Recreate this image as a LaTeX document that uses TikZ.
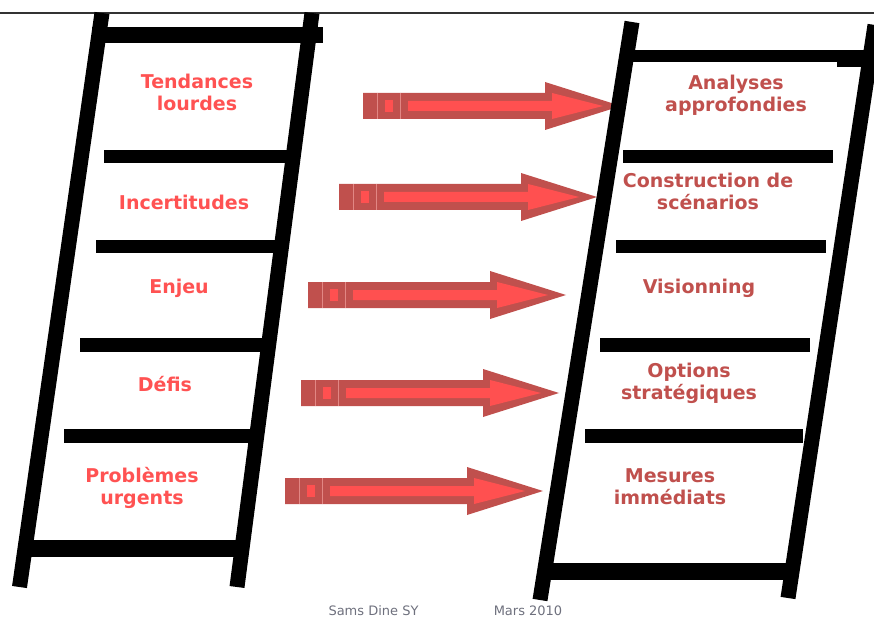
\documentclass[tikz,border=0pt]{standalone}
\usepackage{fontspec}
\setmainfont{DejaVu Sans}
\definecolor{lefttext}{RGB}{255,82,82}
\definecolor{righttext}{RGB}{192,80,77}
\definecolor{arrowrim}{RGB}{192,80,77}
\definecolor{arrowfill}{RGB}{255,80,80}
\definecolor{arrowsep}{RGB}{226,135,132}
\definecolor{footgray}{RGB}{110,112,125}
\tikzset{
  stripearrow/.pic={
    \fill[arrowrim] (0,-13) -- (182,-13) -- (182,-24) -- (258,0) -- (182,24) -- (182,13) -- (0,13) -- cycle;
    \draw[arrowsep, line width=0.8pt] (14,-13) -- (14,13) (37.5,-13) -- (37.5,13);
    \fill[arrowfill] (22,-6) rectangle (30,6);
    \fill[arrowfill] (45,-5) -- (189,-5) -- (189,-13) -- (240,0) -- (189,13) -- (189,5) -- (45,5) -- cycle;
  },
  rail/.style={line width=15pt},
  rung/.style={fill=black},
  lbl/.style={font=\bfseries\fontsize{19}{22}\selectfont, inner sep=0pt, anchor=base},
  leftlbl/.style={lbl, text=lefttext},
  rightlbl/.style={lbl, text=righttext},
  foot/.style={font=\fontsize{13}{15}\selectfont, text=footgray, inner sep=0pt, anchor=base}
}
\begin{document}
\begin{tikzpicture}[x=1pt,y=-1pt]
\useasboundingbox (0,0) rectangle (874,617);
\clip (0,0) rectangle (874,617);

% top rule
\draw[line width=1.5pt, black!80] (0,13) -- (874,13);

% arrows
\pic (a1) at (363,106) {stripearrow};
\pic (a2) at (339,197) {stripearrow};
\pic (a3) at (308,295) {stripearrow};
\pic (a4) at (301,393) {stripearrow};
\pic (a5) at (285,491) {stripearrow};

% left ladder
\draw[rail] (102,13) -- (19.5,587);
\draw[rail] (312,13) -- (237,587);
\fill[rung] (92,27) rectangle (323,43);
\fill[rung] (104,150) rectangle (290,163);
\fill[rung] (96,240) rectangle (277,253);
\fill[rung] (80,338) rectangle (263,352);
\fill[rung] (64,429) rectangle (250,443);
\fill[rung] (28,540) rectangle (248,557);

% right ladder
\draw[rail] (632,22) -- (540,600);
\draw[rail] (875,25) -- (788,598);
\fill[rung] (633,50) rectangle (874,62);
\fill[rung] (837,62) rectangle (874,67);
\fill[rung] (623,150) rectangle (833,163);
\fill[rung] (616,240) rectangle (826,253);
\fill[rung] (600,338) rectangle (810,352);
\fill[rung] (585,429) rectangle (803,443);
\fill[rung] (548,563) rectangle (793,580);

% left labels
\node[leftlbl] (t1) at (197,89) {\begin{tabular}[t]{@{}c@{}}Tendances\\lourdes\end{tabular}};
\node[leftlbl] (t2) at (184,210) {Incertitudes};
\node[leftlbl] (t3) at (179,293) {Enjeu};
\node[leftlbl] (t4) at (165,391) {Défis};
\node[leftlbl] (t5) at (142,482) {\begin{tabular}[t]{@{}c@{}}Problèmes\\urgents\end{tabular}};

% right labels
\node[rightlbl] (r1) at (736,90) {\begin{tabular}[t]{@{}c@{}}Analyses\\approfondies\end{tabular}};
\node[rightlbl] (r2) at (708,188) {\begin{tabular}[t]{@{}c@{}}Construction de\\scénarios\end{tabular}};
\node[rightlbl] (r3) at (699,293) {Visionning};
\node[rightlbl] (r4) at (689,377) {\begin{tabular}[t]{@{}c@{}}Options\\stratégiques\end{tabular}};
\node[rightlbl] (r5) at (670,482) {\begin{tabular}[t]{@{}c@{}}Mesures\\immédiats\end{tabular}};

% footer
\node[foot] (f1) at (373.5,615.5) {Sams Dine SY};
\node[foot] (f2) at (528,615.5) {Mars 2010};
\end{tikzpicture}
\end{document}
